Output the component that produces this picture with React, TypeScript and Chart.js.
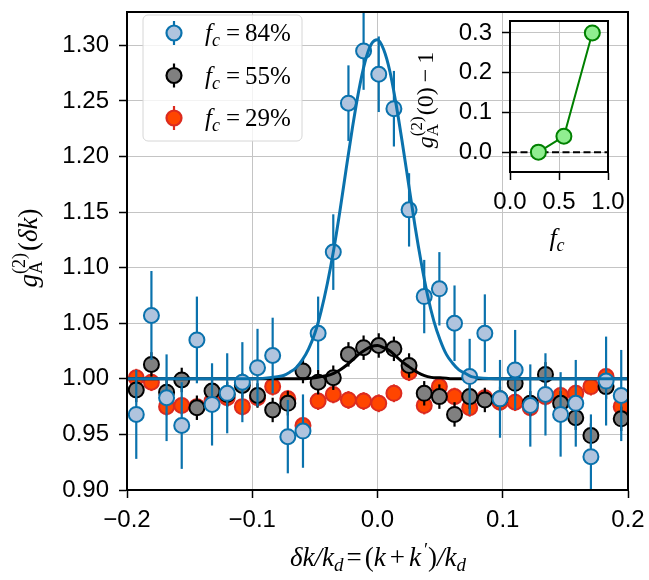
import React, { useEffect, useRef } from 'react';
import { Chart, registerables } from 'chart.js';
Chart.register(...registerables);

// ---------------- data ----------------
const dk = [-0.1926, -0.1805, -0.1684, -0.1563, -0.1442, -0.1321, -0.12, -0.1079, -0.0958, -0.0837, -0.0716,
  -0.0595, -0.0474, -0.0353, -0.0232, -0.0111, 0.001, 0.0131, 0.0252, 0.0373, 0.0494, 0.0615, 0.0736,
  0.0857, 0.0978, 0.1099, 0.122, 0.1341, 0.1462, 0.1583, 0.1704, 0.1825, 0.1946];

const g84 = [0.968, 1.057, 0.983, 0.958, 1.035, 0.977, 0.987, 0.997, 1.01, 1.021, 0.948,
  0.953, 1.041, 1.114, 1.248, 1.295, 1.274, 1.243, 1.152, 1.074, 1.081, 1.05, 1.002,
  1.041, 0.982, 1.008, 0.976, 0.986, 0.968, 0.978, 0.93, 0.998, 0.985];
const e84 = [0.04, 0.04, 0.039, 0.039, 0.039, 0.037, 0.036, 0.036, 0.035, 0.034, 0.033,
  0.033, 0.033, 0.034, 0.034, 0.035, 0.034, 0.034, 0.033, 0.033, 0.033, 0.034, 0.034,
  0.035, 0.035, 0.036, 0.037, 0.037, 0.038, 0.039, 0.038, 0.04, 0.041];

const g55 = [0.99, 1.013, 0.988, 0.999, 0.974, 0.989, 0.986, 0.994, 0.985, 0.972, 0.978,
  1.007, 0.997, 1.001, 1.022, 1.028, 1.03, 1.027, 1.012, 0.987, 0.984, 0.968, 0.984,
  0.981, 0.982, 0.996, 0.978, 1.004, 0.978, 0.965, 0.949, 0.993, 0.964];
const e55 = [0.011, 0.011, 0.011, 0.011, 0.011, 0.011, 0.011, 0.011, 0.011, 0.011, 0.011,
  0.011, 0.011, 0.011, 0.011, 0.011, 0.011, 0.011, 0.011, 0.011, 0.011, 0.011, 0.011,
  0.011, 0.011, 0.011, 0.011, 0.011, 0.011, 0.011, 0.011, 0.011, 0.011];

const g29 = [1.001, 0.997, 0.975, 0.976, 0.975, 0.98, 0.983, 0.975, 0.983, 0.993, 0.982,
  0.958, 0.98, 0.986, 0.981, 0.98, 0.978, 0.987, 1.006, 0.976, 0.993, 0.984, 0.974,
  0.983, 0.979, 0.979, 0.974, 0.984, 0.985, 0.987, 0.993, 1.002, 0.975];
const e29 = [0.008, 0.008, 0.008, 0.008, 0.008, 0.008, 0.008, 0.008, 0.008, 0.008, 0.008,
  0.008, 0.008, 0.008, 0.008, 0.008, 0.008, 0.008, 0.008, 0.008, 0.008, 0.008, 0.008,
  0.008, 0.008, 0.008, 0.008, 0.008, 0.008, 0.008, 0.008, 0.008, 0.008];

const fitX84 = [-0.2, -0.1, -0.08, -0.075, -0.07, -0.065, -0.06, -0.055, -0.05, -0.045, -0.04, -0.035, -0.03,
  -0.025, -0.02, -0.015, -0.01, -0.005, 0, 0.005, 0.01, 0.015, 0.02, 0.025, 0.03, 0.035, 0.04, 0.045,
  0.05, 0.055, 0.06, 0.065, 0.07, 0.075, 0.08, 0.1, 0.2];
const fit84 = [1.0, 1.0, 1.002, 1.003, 1.006, 1.01, 1.017, 1.027, 1.041, 1.061, 1.086, 1.116, 1.151,
  1.189, 1.226, 1.259, 1.285, 1.301, 1.305, 1.296, 1.276, 1.246, 1.211, 1.174, 1.137, 1.104, 1.075, 1.052,
  1.035, 1.022, 1.014, 1.008, 1.005, 1.002, 1.001, 1.0, 1.0];

const fitX55 = [-0.2, -0.06, -0.05, -0.045, -0.04, -0.035, -0.03, -0.025, -0.02, -0.015, -0.01, -0.005, 0,
  0.005, 0.01, 0.015, 0.02, 0.025, 0.03, 0.035, 0.04, 0.045, 0.05, 0.06, 0.2];
const fit55 = [1.0, 1.0, 1.001, 1.002, 1.003, 1.005, 1.008, 1.012, 1.017, 1.022, 1.026, 1.029, 1.03,
  1.028, 1.025, 1.02, 1.015, 1.011, 1.007, 1.004, 1.002, 1.001, 1.001, 1.0, 1.0];

const xTicks = [-0.2, -0.1, 0.0, 0.1, 0.2];
const yTicks = [0.9, 0.95, 1.0, 1.05, 1.1, 1.15, 1.2, 1.25, 1.3];

const fcValues = [0.29, 0.55, 0.84];
const g0Values = [0.0, 0.04, 0.3];
const insetXTicks = [0.0, 0.5, 1.0];
const insetYTicks = [0.0, 0.1, 0.2, 0.3];
const zeroLineX = [0, 1];
const zeroLineY = [0, 0];

const legendLabels = ['84%', '55%', '29%'];

// ---------------- styles ----------------
const BLUE = '#0a72ad';
const BLUE_FILL = '#b0c4de';
const GRAY_FILL = '#808080';
const RED_EDGE = '#dc2b1f';
const RED_FILL = '#ff4500';
const GREEN = '#008000';
const GREEN_FILL = '#90ee90';
const GRID = '#c4c4c4';
const SANS = '"Liberation Sans", Arial, sans-serif';
const SERIF = '"Liberation Serif", "Times New Roman", serif';

type Seg = { t: string; it?: boolean; sz?: number; dy?: number; gap?: number; stack?: boolean };

function drawRich(ctx: CanvasRenderingContext2D, segs: Seg[], x: number, y: number, base: number) {
  const widths: number[] = [];
  const pos: number[] = [];
  segs.forEach((s) => {
    ctx.font = `${s.it ? 'italic ' : ''}${s.sz || base}px ${SERIF}`;
    widths.push(ctx.measureText(s.t).width);
  });
  let cx = 0;
  let stackMax = 0;
  segs.forEach((s, i) => {
    cx += s.gap || 0;
    pos.push(cx);
    if (s.stack) {
      stackMax = Math.max(stackMax, widths[i]);
    } else {
      cx += Math.max(widths[i], stackMax);
      stackMax = 0;
    }
  });
  const start = x - cx / 2;
  ctx.textBaseline = 'alphabetic';
  ctx.textAlign = 'left';
  ctx.fillStyle = 'black';
  segs.forEach((s, i) => {
    ctx.font = `${s.it ? 'italic ' : ''}${s.sz || base}px ${SERIF}`;
    ctx.fillText(s.t, start + pos[i], y + (s.dy || 0));
  });
}

function pts(xs: number[], ys: number[]) {
  return xs.map((x, i) => ({ x, y: ys[i] }));
}

const errorBarPlugin = {
  id: 'errorBars',
  beforeDatasetDraw(chart: any, args: any) {
    const ds = chart.data.datasets[args.index];
    if (!ds.errors) return;
    const ctx = chart.ctx as CanvasRenderingContext2D;
    const ys = chart.scales.y;
    const a = chart.chartArea;
    ctx.save();
    ctx.beginPath();
    ctx.rect(a.left, a.top, a.right - a.left, a.bottom - a.top);
    ctx.clip();
    ctx.strokeStyle = ds.errColor;
    ctx.lineWidth = 2.2;
    args.meta.data.forEach((p: any, i: number) => {
      const v = ds.data[i].y;
      const e = ds.errors[i];
      ctx.beginPath();
      ctx.moveTo(p.x, ys.getPixelForValue(v - e));
      ctx.lineTo(p.x, ys.getPixelForValue(v + e));
      ctx.stroke();
    });
    ctx.restore();
  },
};

const mainDecor = {
  id: 'mainDecor',
  afterDraw(chart: any) {
    const ctx = chart.ctx as CanvasRenderingContext2D;
    const a = chart.chartArea;
    ctx.save();
    ctx.strokeStyle = 'black';
    ctx.lineWidth = 2;
    ctx.strokeRect(a.left, a.top, a.right - a.left, a.bottom - a.top);

    // legend
    const lx = 143, ly = 15, lw = 159, lh = 126, r = 5;
    ctx.beginPath();
    ctx.moveTo(lx + r, ly);
    ctx.arcTo(lx + lw, ly, lx + lw, ly + lh, r);
    ctx.arcTo(lx + lw, ly + lh, lx, ly + lh, r);
    ctx.arcTo(lx, ly + lh, lx, ly, r);
    ctx.arcTo(lx, ly, lx + lw, ly, r);
    ctx.closePath();
    ctx.fillStyle = 'rgba(255,255,255,0.8)';
    ctx.fill();
    ctx.strokeStyle = '#d6d6d6';
    ctx.lineWidth = 1;
    ctx.stroke();

    const entries = [
      { edge: BLUE, fill: BLUE_FILL },
      { edge: '#000000', fill: GRAY_FILL },
      { edge: RED_EDGE, fill: RED_FILL },
    ];
    entries.forEach((en, i) => {
      const cy = 33 + i * 42.5;
      const cx = 174;
      ctx.strokeStyle = en.edge;
      ctx.lineWidth = 2.2;
      ctx.beginPath();
      ctx.moveTo(cx, cy - 12);
      ctx.lineTo(cx, cy + 12);
      ctx.stroke();
      ctx.beginPath();
      ctx.arc(cx, cy, 7.5, 0, Math.PI * 2);
      ctx.fillStyle = en.fill;
      ctx.fill();
      ctx.stroke();
      const segs: Seg[] = [
        { t: 'f', it: true },
        { t: 'c', it: true, sz: 18, dy: 5 },
        { t: '=', gap: 6 },
        { t: legendLabels[i], gap: 5 },
      ];
      drawRich(ctx, segs, 248, cy + 8, 25);
    });

    // x label
    drawRich(ctx, [
      { t: 'δ', it: true }, { t: 'k', it: true }, { t: '/', it: true }, { t: 'k', it: true },
      { t: 'd', it: true, sz: 19, dy: 5 }, { t: '=', gap: 3 }, { t: '(', gap: 3 }, { t: 'k', it: true },
      { t: '+', gap: 4 }, { t: 'k', it: true, gap: 4 }, { t: '′', sz: 19, dy: -10, gap: 3 }, { t: ')' },
      { t: '/', it: true }, { t: 'k', it: true }, { t: 'd', it: true, sz: 19, dy: 5 },
    ], 378, 566, 27);

    // y label
    ctx.save();
    ctx.translate(37, 248);
    ctx.rotate(-Math.PI / 2);
    drawRich(ctx, [
      { t: 'g', it: true }, { t: 'A', sz: 18, dy: 5, stack: true }, { t: '(2)', sz: 18, dy: -12 },
      { t: '(', gap: 2 }, { t: 'δ', it: true }, { t: 'k', it: true }, { t: ')' },
    ], 0, 0, 27);
    ctx.restore();
    ctx.restore();
  },
};

const insetDecor = {
  id: 'insetDecor',
  afterDraw(chart: any) {
    const ctx = chart.ctx as CanvasRenderingContext2D;
    const a = chart.chartArea;
    ctx.save();
    ctx.strokeStyle = 'black';
    ctx.lineWidth = 2;
    ctx.strokeRect(a.left, a.top, a.right - a.left, a.bottom - a.top);
    drawRich(ctx, [{ t: 'f', it: true }, { t: 'c', it: true, sz: 18, dy: 5 }], 157, 246, 26);
    ctx.save();
    ctx.translate(33, 100);
    ctx.rotate(-Math.PI / 2);
    drawRich(ctx, [
      { t: 'g', it: true }, { t: 'A', sz: 17, dy: 5, stack: true }, { t: '(2)', sz: 17, dy: -11 },
      { t: '(0)', gap: 1 }, { t: '−', gap: 5 }, { t: '1', gap: 5 },
    ], 0, 0, 24);
    ctx.restore();
    ctx.restore();
  },
};

function axisBase(ticksArr: number[], fmt: (v: number) => string, pad: number) {
  return {
    type: 'linear' as const,
    afterBuildTicks: (s: any) => {
      s.ticks = ticksArr.map((v) => ({ value: v }));
    },
    ticks: {
      callback: (v: any) => fmt(Number(v)),
      font: { family: SANS, size: 24 },
      color: 'black',
      padding: pad,
      autoSkip: false,
      maxRotation: 0,
      minRotation: 0,
    },
    grid: { color: GRID, lineWidth: 1, tickColor: 'black', tickLength: 8, tickWidth: 1.5 },
    border: { color: 'black', width: 2 },
  };
}

const fmtX = (v: number) => (v < -1e-9 ? '−' : '') + Math.abs(v).toFixed(1);
const fmtY = (v: number) => v.toFixed(2);
const fmt1 = (v: number) => v.toFixed(1);

export default function App() {
  const mainRef = useRef<HTMLCanvasElement>(null);
  const insetRef = useRef<HTMLCanvasElement>(null);

  useEffect(() => {
    const main = new Chart(mainRef.current as HTMLCanvasElement, {
      type: 'scatter',
      data: {
        datasets: [
          {
            type: 'line', data: pts(fitX84, fit84), showLine: true, borderColor: BLUE, borderWidth: 3,
            pointRadius: 0, cubicInterpolationMode: 'monotone', fill: false, order: 0,
          } as any,
          {
            data: pts(dk, g84), pointRadius: 7.5, pointBorderWidth: 2, pointBackgroundColor: BLUE_FILL,
            pointBorderColor: BLUE, showLine: false, order: 1, errors: e84, errColor: BLUE,
          } as any,
          {
            type: 'line', data: pts(fitX55, fit55), showLine: true, borderColor: '#000000', borderWidth: 3,
            pointRadius: 0, cubicInterpolationMode: 'monotone', fill: false, order: 2,
          } as any,
          {
            data: pts(dk, g55), pointRadius: 7.5, pointBorderWidth: 2, pointBackgroundColor: GRAY_FILL,
            pointBorderColor: '#000000', showLine: false, order: 3, errors: e55, errColor: '#000000',
          } as any,
          {
            data: pts(dk, g29), pointRadius: 7.5, pointBorderWidth: 2, pointBackgroundColor: RED_FILL,
            pointBorderColor: RED_EDGE, showLine: false, order: 4, errors: e29, errColor: RED_EDGE,
          } as any,
        ],
      },
      options: {
        animation: false,
        responsive: false,
        devicePixelRatio: 1,
        events: [],
        layout: { padding: { top: 12, right: 21, left: 0, bottom: 0 } },
        plugins: { legend: { display: false }, tooltip: { enabled: false } },
        scales: {
          x: {
            ...axisBase(xTicks, fmtX, 8), min: -0.2, max: 0.2,
            afterFit: (s: any) => { s.height = 90; s.paddingLeft = 0; s.paddingRight = 0; },
          } as any,
          y: {
            ...axisBase(yTicks, fmtY, 10), min: 0.9, max: 1.33,
            afterFit: (s: any) => { s.width = 127; s.paddingTop = 0; s.paddingBottom = 0; },
          } as any,
        },
      },
      plugins: [errorBarPlugin, mainDecor],
    });

    const inset = new Chart(insetRef.current as HTMLCanvasElement, {
      type: 'scatter',
      data: {
        datasets: [
          {
            data: pts(fcValues, g0Values), showLine: true, borderColor: GREEN, borderWidth: 2,
            pointRadius: 7.5, pointBorderWidth: 2, pointBackgroundColor: GREEN_FILL, pointBorderColor: GREEN,
            order: 0,
          } as any,
          {
            data: pts(zeroLineX, zeroLineY), showLine: true, borderColor: '#000000', borderWidth: 2,
            borderDash: [7, 3.5], pointRadius: 0, order: 1,
          } as any,
        ],
      },
      options: {
        animation: false,
        responsive: false,
        devicePixelRatio: 1,
        events: [],
        layout: { padding: { top: 21, right: 41, left: 0, bottom: 0 } },
        plugins: { legend: { display: false }, tooltip: { enabled: false } },
        scales: {
          x: {
            ...axisBase(insetXTicks, fmt1, 8), min: 0, max: 1.0,
            afterFit: (s: any) => { s.height = 88; s.paddingLeft = 0; s.paddingRight = 0; },
          } as any,
          y: {
            ...axisBase(insetYTicks, fmt1, 10), min: -0.05, max: 0.33,
            afterFit: (s: any) => { s.width = 110; s.paddingTop = 0; s.paddingBottom = 0; },
          } as any,
        },
      },
      plugins: [insetDecor],
    });

    return () => {
      main.destroy();
      inset.destroy();
    };
  }, []);

  return (
    <div style={{ position: 'absolute', left: 0, top: 0, width: 649, height: 580, background: 'white' }}>
      <canvas ref={mainRef} width={649} height={580}
        style={{ position: 'absolute', left: 0, top: 0, width: 649, height: 580 }} />
      <canvas ref={insetRef} width={249} height={260}
        style={{ position: 'absolute', left: 400, top: 0, width: 249, height: 260, pointerEvents: 'none' }} />
    </div>
  );
}
